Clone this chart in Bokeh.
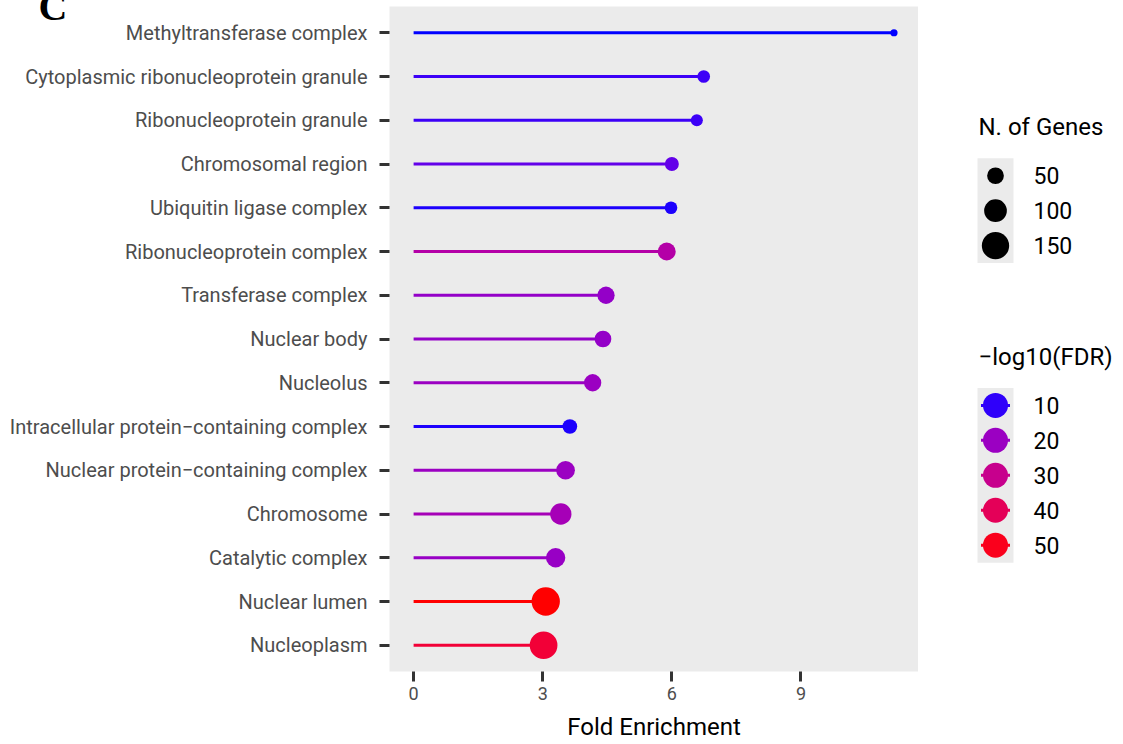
import numpy as np
from bokeh.plotting import figure
from bokeh.models import ColumnDataSource, Range1d, FixedTicker, LinearColorMapper
from bokeh.transform import transform
from bokeh.layouts import row
from bokeh.embed import file_html
from bokeh.resources import INLINE
from bokeh.core.properties import value

# ---------------- data (top to bottom) ----------------
terms = [
    "Methyltransferase complex",
    "Cytoplasmic ribonucleoprotein granule",
    "Ribonucleoprotein granule",
    "Chromosomal region",
    "Ubiquitin ligase complex",
    "Ribonucleoprotein complex",
    "Transferase complex",
    "Nuclear body",
    "Nucleolus",
    "Intracellular protein\u2212containing complex",
    "Nuclear protein\u2212containing complex",
    "Chromosome",
    "Catalytic complex",
    "Nuclear lumen",
    "Nucleoplasm",
]
fold_enrichment = [11.16, 6.74, 6.58, 6.00, 5.98, 5.88, 4.47, 4.40, 4.16, 3.63, 3.53, 3.42, 3.30, 3.07, 3.02]
n_genes = [6, 26, 23, 33, 26, 59, 54, 50, 54, 37, 65, 87, 70, 162, 155]
neg_log10_fdr = [9.0, 10.5, 10.5, 13.0, 9.5, 25.0, 19.0, 19.0, 20.0, 9.5, 20.0, 22.0, 19.5, 52.5, 46.0]

x_ticks = [0, 3, 6, 9]
size_breaks = [50, 100, 150]
color_breaks = [10, 20, 30, 40, 50]

FONT = "Roboto"

# ---------------- colour scale: blue -> red interpolated in CIE Lab ----------------
def _hex_to_lab(h):
    rgb = np.array([int(h[i:i + 2], 16) for i in (1, 3, 5)]) / 255.0
    lin = np.where(rgb <= 0.04045, rgb / 12.92, ((rgb + 0.055) / 1.055) ** 2.4)
    M = np.array([[0.4124564, 0.3575761, 0.1804375],
                  [0.2126729, 0.7151522, 0.0721750],
                  [0.0193339, 0.1191920, 0.9503041]])
    xyz = M @ lin / np.array([0.95047, 1.0, 1.08883])
    f = np.where(xyz > 0.008856, np.cbrt(xyz), 7.787 * xyz + 16 / 116)
    return np.array([116 * f[1] - 16, 500 * (f[0] - f[1]), 200 * (f[1] - f[2])])

def _lab_to_hex(lab):
    L, a, b = lab
    fy = (L + 16) / 116
    fx = fy + a / 500
    fz = fy - b / 200
    f = np.array([fx, fy, fz])
    xyz = np.where(f ** 3 > 0.008856, f ** 3, (f - 16 / 116) / 7.787) * np.array([0.95047, 1.0, 1.08883])
    Minv = np.array([[3.2404542, -1.5371385, -0.4985314],
                     [-0.9692660, 1.8760108, 0.0415560],
                     [0.0556434, -0.2040259, 1.0572252]])
    lin = np.clip(Minv @ xyz, 0, 1)
    rgb = np.where(lin <= 0.0031308, 12.92 * lin, 1.055 * lin ** (1 / 2.4) - 0.055)
    rgb = np.clip(np.round(rgb * 255), 0, 255).astype(int)
    return "#%02x%02x%02x" % tuple(rgb)

lab_lo, lab_hi = _hex_to_lab("#0000FF"), _hex_to_lab("#FF0000")
palette = [_lab_to_hex(lab_lo + (lab_hi - lab_lo) * t) for t in np.linspace(0, 1, 256)]
mapper = LinearColorMapper(palette=palette, low=min(neg_log10_fdr), high=max(neg_log10_fdr))

def gene_size(n):
    # point diameter (px) grows linearly with sqrt(count), like an area scale
    return 2.2 + 2.05 * np.sqrt(np.asarray(n, dtype=float))

# ---------------- layout constants (page pixels) ----------------
H = 743
TOP, BOTTOM = 6, 71          # frame spans y = 6 .. 672
LEFT_W = 389                 # frame starts at x = 389
MAIN_W = 918                 # frame ends at x = 918
LEG_W = 202

# ---------------- main lollipop panel ----------------
nrow = len(terms)
ypos = [nrow - i for i in range(nrow)]
src = ColumnDataSource(dict(term=terms, fe=fold_enrichment, y=ypos, n=n_genes,
                            fdr=neg_log10_fdr, size=gene_size(n_genes)))

p = figure(width=MAIN_W, height=H, x_range=Range1d(-0.56, 11.73), y_range=Range1d(0.4, nrow + 0.6),
           output_backend="svg", toolbar_location=None,
           min_border_left=LEFT_W, min_border_right=0, min_border_top=TOP, min_border_bottom=BOTTOM)
p.background_fill_color = "#EBEBEB"
p.border_fill_color = "white"
p.outline_line_color = None
p.xgrid.grid_line_color = None
p.ygrid.grid_line_color = None

p.segment(x0=0, y0="y", x1="fe", y1="y", line_width=3,
          line_color=transform("fdr", mapper), source=src)
p.scatter(x="fe", y="y", size="size", marker="circle", line_color=None,
          fill_color=transform("fdr", mapper), source=src)

for ax in (p.xaxis[0], p.yaxis[0]):
    ax.axis_line_color = None
    ax.major_tick_in = 0
    ax.major_tick_out = 10
    ax.major_tick_line_width = 3
    ax.major_tick_line_color = "#333333"
    ax.minor_tick_line_color = None
    ax.major_label_text_font = FONT
    ax.major_label_text_color = "#4D4D4D"

p.yaxis.major_label_text_font_size = "20px"
p.xaxis.major_label_text_font_size = "18px"

p.xaxis.ticker = FixedTicker(ticks=x_ticks)
p.xaxis.major_label_standoff = 5
p.xaxis.axis_label = "Fold Enrichment"
p.xaxis.axis_label_text_font = FONT
p.xaxis.axis_label_text_font_size = "24px"
p.xaxis.axis_label_text_font_style = "normal"
p.xaxis.axis_label_text_color = "black"
p.xaxis.axis_label_standoff = 10

p.yaxis.ticker = FixedTicker(ticks=ypos)
p.yaxis.major_label_overrides = {int(y): t for y, t in zip(ypos, terms)}
p.yaxis.major_label_standoff = 12

# panel letter "C", partly cut off at the top edge (as the figure title)
p.title.text = "C"
p.title.text_font = "Liberation Serif"
p.title.text_font_style = "bold"
p.title.text_font_size = "40px"
p.title.text_color = "black"
p.title.align = "left"
p.title.vertical_align = "middle"
p.title.offset = 38 - LEFT_W
p.title.standoff = -46

# ---------------- legends (data units = page pixels) ----------------
lf = figure(width=LEG_W, height=H, x_range=Range1d(MAIN_W, MAIN_W + LEG_W), y_range=Range1d(H - BOTTOM, TOP),
            output_backend="svg", toolbar_location=None,
            min_border_left=0, min_border_right=0, min_border_top=TOP, min_border_bottom=BOTTOM,
            x_axis_location=None, y_axis_location=None)
lf.outline_line_color = None
lf.xgrid.grid_line_color = None
lf.ygrid.grid_line_color = None
lf.background_fill_color = "white"
lf.border_fill_color = "white"

KEY_X, KEY_W, KEY_H, LAB_X, TITLE_X = 995, 36, 35, 1033, 978

# size legend
lf.text(x=[TITLE_X], y=[127], text=["N. of Genes"], text_baseline="middle", text_align="left",
        text_font=value(FONT), text_font_size="24px", text_color="black")
sy = [175.5 + KEY_H * i for i in range(len(size_breaks))]
lf.rect(x=KEY_X, y=float(np.mean(sy)), width=KEY_W, height=KEY_H * len(size_breaks),
        fill_color="#EBEBEB", line_color=None)
lf.scatter(x=[KEY_X] * len(size_breaks), y=sy, size=gene_size(size_breaks), marker="circle",
           fill_color="black", line_color=None)
lf.text(x=[LAB_X] * len(size_breaks), y=sy, text=[str(b) for b in size_breaks], text_baseline="middle",
        text_font=value(FONT), text_font_size="23px", text_color="black")

# colour legend
lf.text(x=[TITLE_X], y=[357], text=["\u2212log10(FDR)"], text_baseline="middle", text_align="left",
        text_font=value(FONT), text_font_size="24px", text_color="black")
cy = [405.5 + KEY_H * i for i in range(len(color_breaks))]
csrc = ColumnDataSource(dict(y=cy, v=color_breaks, lab=[str(b) for b in color_breaks]))
lf.rect(x=KEY_X, y=float(np.mean(cy)), width=KEY_W, height=KEY_H * len(color_breaks),
        fill_color="#EBEBEB", line_color=None)
lf.segment(x0=KEY_X - 14.5, y0="y", x1=KEY_X + 14.5, y1="y", line_width=3,
           line_color=transform("v", mapper), source=csrc)
lf.scatter(x=KEY_X, y="y", size=25, marker="circle", line_color=None,
           fill_color=transform("v", mapper), source=csrc)
lf.text(x=LAB_X, y="y", text="lab", text_baseline="middle", text_font=value(FONT),
        text_font_size="23px", text_color="black", source=csrc)

layout = row(p, lf, spacing=0)
open("out.html", "w").write(file_html(layout, INLINE))
